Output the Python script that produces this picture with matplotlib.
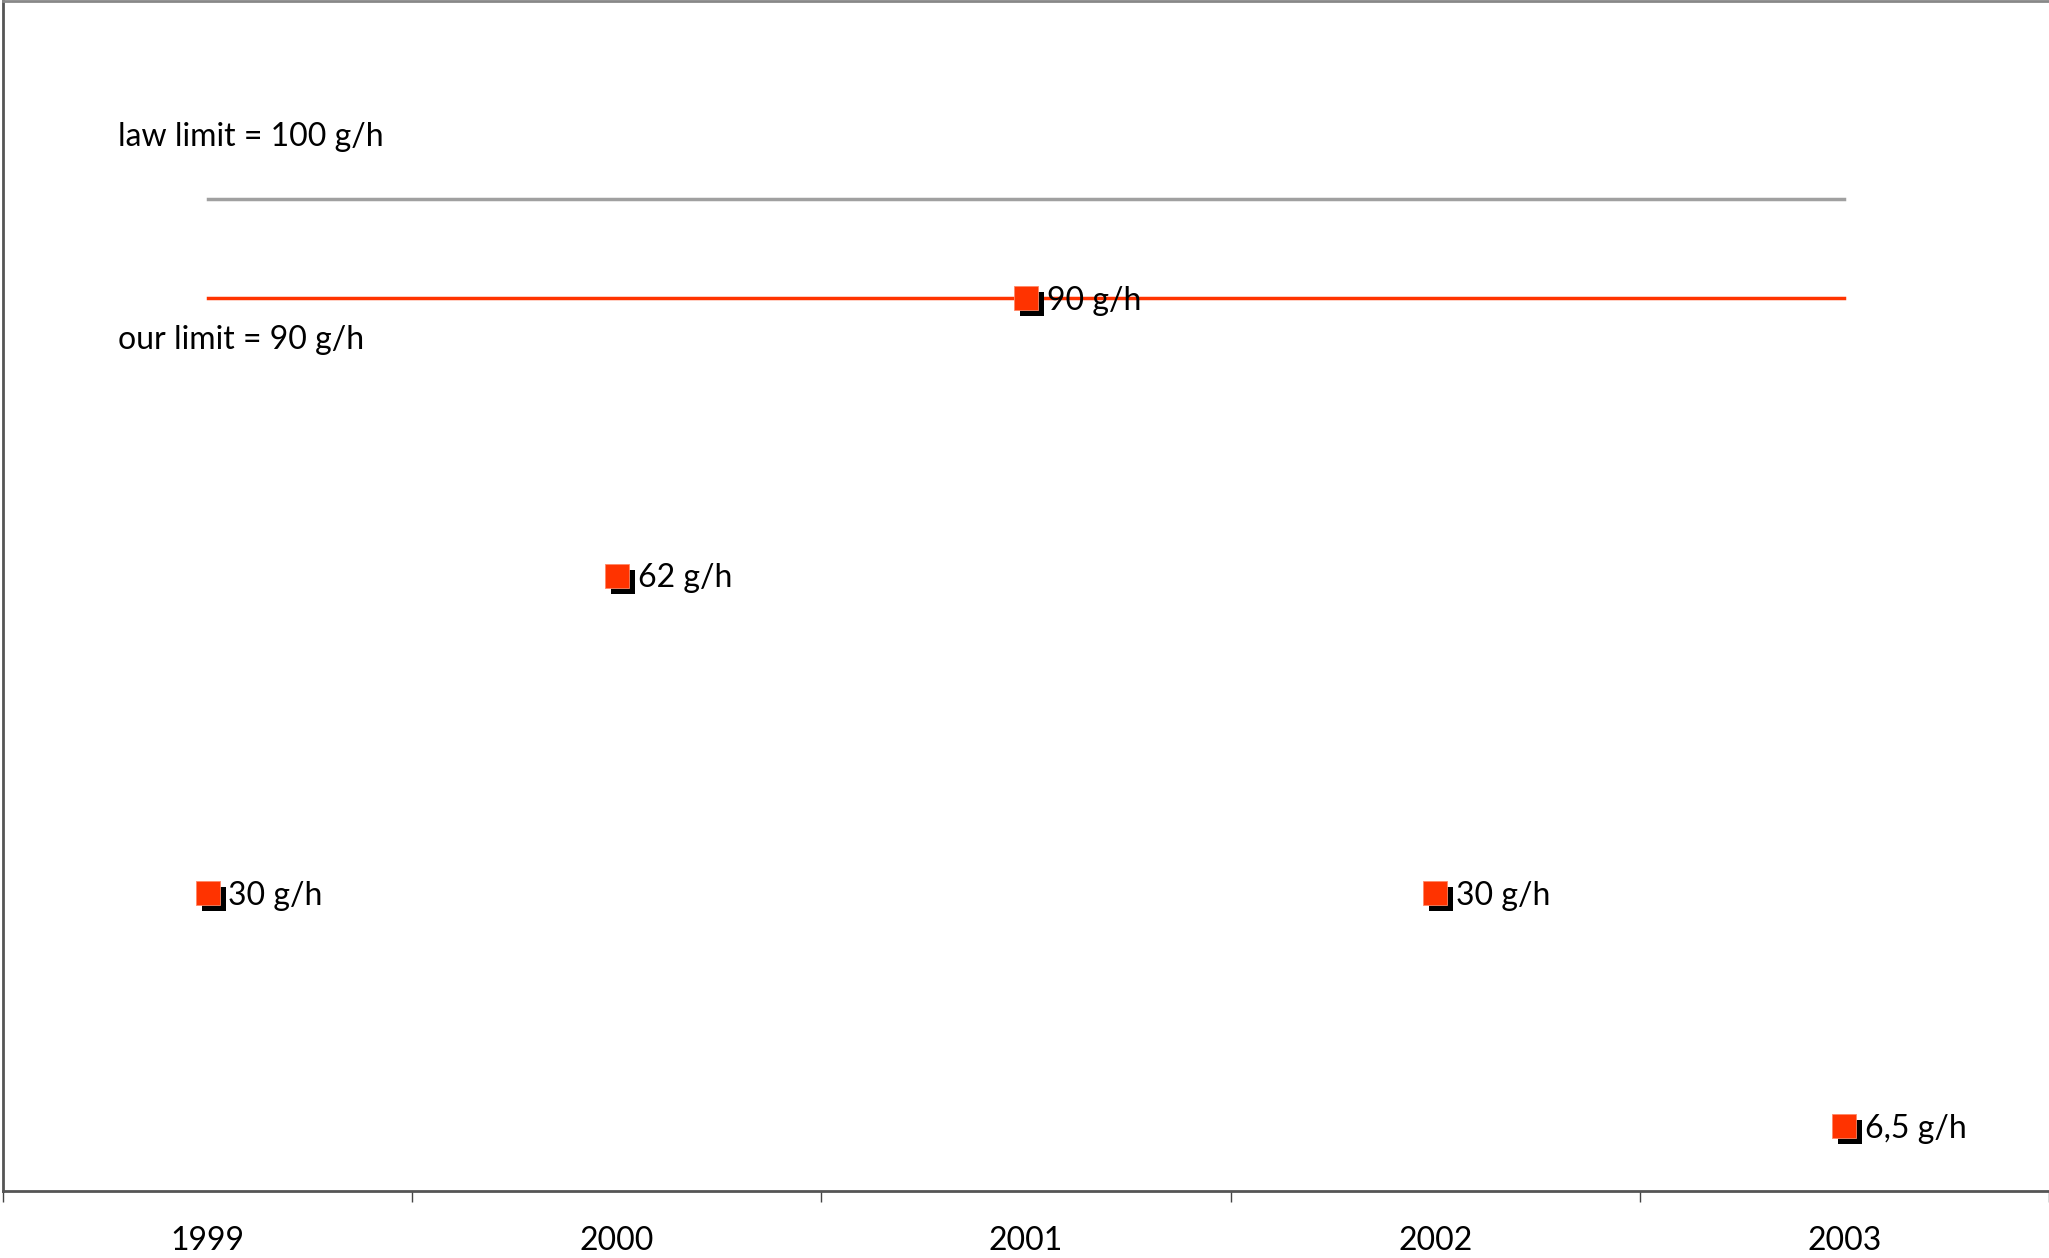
import matplotlib
matplotlib.use('Agg')
import matplotlib.pyplot as plt
import matplotlib.transforms as mtransforms

plt.rcParams['font.family'] = ['Lato', 'DejaVu Sans']

years = ['1999', '2000', '2001', '2002', '2003']
values = [30, 62, 90, 30, 6.5]
labels = ['30 g/h', '62 g/h', '90 g/h', '30 g/h', '6,5 g/h']
law_limit = 100
our_limit = 90

red = '#ff3300'
grey = '#a0a0a0'

fig = plt.figure(figsize=(20.49, 12.58), dpi=100)
ax = fig.add_axes([0.0015, 0.0533, 0.9985, 0.9459])
x = list(range(len(years)))

# limit lines from first to last year
ax.plot([x[0], x[-1]], [law_limit, law_limit], color=grey, linewidth=2.5, zorder=1)
ax.plot([x[0], x[-1]], [our_limit, our_limit], color=red, linewidth=2.5, zorder=1)

# shadow squares, then red squares
shadow = mtransforms.offset_copy(ax.transData, fig=fig, x=6, y=-6, units='dots')
ax.plot(x, values, linestyle='none', marker='s', markersize=17, color='black',
        markeredgewidth=0, transform=shadow, zorder=2)
ax.plot(x, values, linestyle='none', marker='s', markersize=17, color=red,
        markeredgecolor='#ff8866', markeredgewidth=0.6, zorder=3)

for xi, v, lab in zip(x, values, labels):
    ax.annotate(lab, (xi, v), xytext=(15, -1.5), textcoords='offset points',
                va='center', ha='left', fontsize=23, color='black', zorder=4)

ax.text(-0.219, 106.3, 'law limit = %d g/h' % law_limit, fontsize=23, va='center', ha='left')
ax.text(-0.219, 85.8, 'our limit = %d g/h' % our_limit, fontsize=23, va='center', ha='left')

ax.set_xlim(-0.5, len(years) - 0.5)
ax.set_ylim(0, 120)
ax.set_xticks([i - 0.5 for i in range(len(years) + 1)])
ax.set_xticklabels([])
ax.set_xticks(x, minor=True)
ax.set_xticklabels(years, minor=True, fontsize=23)
ax.tick_params(axis='x', which='major', direction='out', length=8, width=1, color='#444444')
ax.tick_params(axis='x', which='minor', length=0, pad=25)
ax.set_yticks([])

ax.spines['right'].set_visible(False)
ax.spines['top'].set_color('#888888')
ax.spines['top'].set_linewidth(2)
ax.spines['left'].set_color('#555555')
ax.spines['left'].set_linewidth(2)
ax.spines['bottom'].set_color('#555555')
ax.spines['bottom'].set_linewidth(2)

fig.savefig('out.png', dpi=100)
